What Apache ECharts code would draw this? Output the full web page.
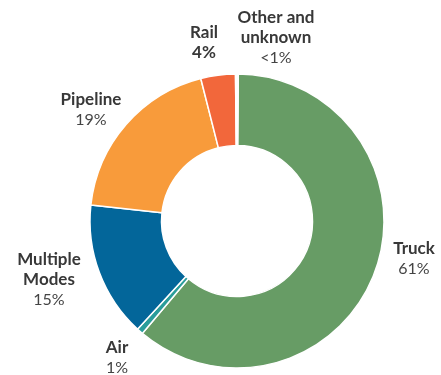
<!DOCTYPE html>
<html>
<head>
<meta charset="utf-8">
<style>html,body{margin:0;padding:0;background:#fff;}#c{width:441px;height:375px;}</style>
<script src="https://cdn.jsdelivr.net/npm/echarts@6/dist/echarts.min.js"></script>
</head>
<body>
<div id="c"></div>
<script>
var categories = ["Truck", "Air", "Multiple Modes", "Pipeline", "Rail", "Other and unknown"];
var values = [61.0, 0.7, 14.9, 19.3, 3.8, 0.3];
var labelNames = ["Truck", "Air", "Multiple\nModes", "Pipeline", "Rail", "Other and\nunknown"];
var pctLabels = ["61%", "1%", "15%", "19%", "4%", "<1%"];
var colors = ["#679c65", "#2a9d9b", "#03669a", "#f89b3b", "#f2673b", "#ffffff"];

var labelPos = [[414, 259], [117, 358], [49, 280], [91, 110], [204, 43], [276, 38]];
var pctBold = [false, false, false, false, true, false];

var chart = echarts.init(document.getElementById('c'), null, {renderer: 'canvas'});
var data = categories.map(function (c, i) {
  var nameLines = labelNames[i].split('\n').map(function (l) { return '{b|' + l + '}'; }).join('\n');
  return {
    name: c,
    value: values[i],
    itemStyle: {color: colors[i]},
    label: {
      formatter: nameLines + '\n{' + (pctBold[i] ? 'b' : 'p') + '|' + pctLabels[i] + '}'
    }
  };
});
chart.setOption({
  animation: false,
  series: [{
    type: 'pie',
    center: [237, 221],
    radius: [75.5, 147],
    startAngle: 89.5,
    clockwise: true,
    avoidLabelOverlap: false,
    itemStyle: {borderColor: '#ffffff', borderWidth: 1.5},
    label: {
      show: true,
      position: 'outside',
      align: 'center',
      rich: {
        b: {fontFamily: 'Lato', fontWeight: 'bold', fontSize: 17, color: '#383838', lineHeight: 20, align: 'center'},
        p: {fontFamily: 'Lato', fontWeight: 'normal', fontSize: 16, color: '#444444', lineHeight: 20, align: 'center'}
      }
    },
    labelLine: {show: false},
    labelLayout: function (params) {
      var p = labelPos[params.dataIndex];
      return {x: p[0], y: p[1], align: 'center', verticalAlign: 'middle'};
    },
    emphasis: {disabled: true},
    data: data
  }]
});
</script>
</body>
</html>
